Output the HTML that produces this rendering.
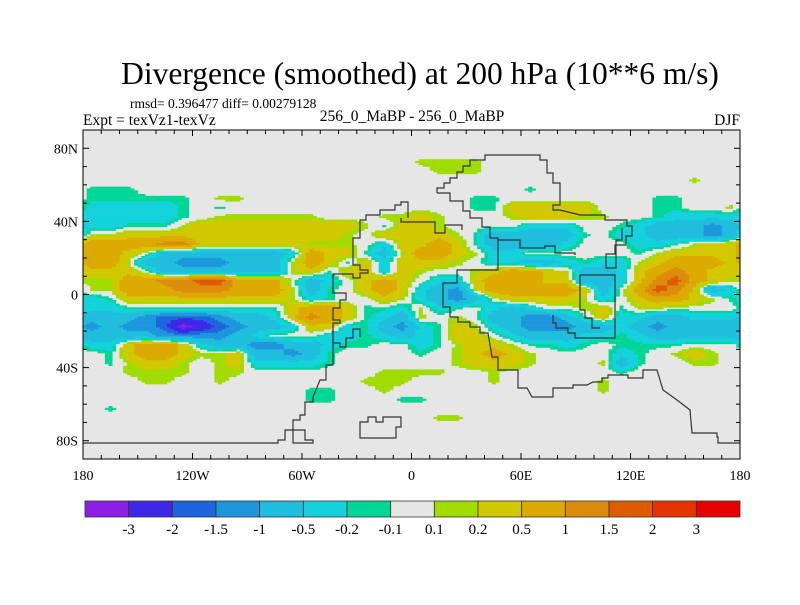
<!DOCTYPE html>
<html><head><meta charset="utf-8"><style>
html,body{margin:0;padding:0;background:#fff;}
svg text{font-family:"Liberation Serif",serif;fill:#000;}
</style></head><body>
<svg id="chart" width="800" height="600" viewBox="0 0 800 600" xmlns="http://www.w3.org/2000/svg">
<text x="420" y="84" font-size="31.5" text-anchor="middle">Divergence (smoothed) at 200 hPa (10**6 m/s)</text>
<text x="130" y="108" font-size="13.5">rmsd= 0.396477 diff= 0.00279128</text>
<text x="83" y="125" font-size="15.5">Expt = texVz1-texVz</text>
<text x="412" y="121" font-size="15.5" text-anchor="middle">256_0_MaBP - 256_0_MaBP</text>
<text x="740" y="125" font-size="15.5" text-anchor="end">DJF</text>
<g id="field"></g>
<g id="coast" fill="none" stroke="#333" stroke-width="1.2">
<path d="M83,443 H278 V440 H285 V430 H293 V420 H300 V415 H305 V402 H313 V397 L320,380 H326 V365 H333 V347 H333 V323 H340 V320 H333 V308 H340 V300 H346 V293 H333 V274 H353 V278 H360 V273 H368 V270 H360 V265 H353 V238 H360 V220 H366 V215 H380 V210 H395 V205 H401 V202 H408 V218"/>
<path d="M401,218 V222 H435 V233 H445 V225 H462 V230"/>
<path d="M293,443 H313 V440 H305 V430 H293 Z"/>
<path d="M333,329 V343 H340 V347 H346 V338 H353 V329 H360 V337"/>
<path d="M360,422 V438 H396 V427 H401 V417 H383 V422 H376 V417 H368 V422 Z"/>
<path d="M437,193 V188 H444 V183 H450 V178 H457 V172 H463 V166 H470 V160 H485 V155 H540 V160 H547 V173 H553 V183 H560 V205 H553 V210 H560 L580,215 H605 V220 H627 V226 H632 V236 H626 V245 H615 V254 H606 V268 H616 V240 H622 V228"/>
<path d="M437,193 H450 V201 H463 V211 H470 V218 H482 V227 H490 V238 H498 V250 H498 V270 H457 V283 H443 V307 H450 V317 H458 V322 H470 V327 H480 V333 H488 L492,357 H498 V370 H518 V388 H527 L532,397 H553 V388 H573 V385 H587 L593,382 H602 V378 H608 V375 H628 V378 H643 V370 H657 L663,390 L670,395 L677,400 L690,410 L692,433 H717 V437 H718 V443 H740"/>
<path d="M580,275 H615 V338 H575 V333 H568 V328 H556 V323 H553 V315"/>
<path d="M580,275 V310 H585 V318 H592 V328 H600"/>
<path d="M498,240 H520 V248 H545 V246 H555 V253 H575 V255"/>
</g>
<rect x="83" y="130" width="657" height="329" fill="none" stroke="#000" stroke-width="1"/>
<g id="axes"></g>
<g id="cbar"></g>
</svg>
<script>
// grid: 36 lon columns (10 deg, from 180W) x 36 lat rows (5 deg, from 90N)
const levelCodes = "ABCDEFG01234567";
const levelValues = [-3.5,-2.5,-1.75,-1.25,-0.75,-0.35,-0.15,0,0.15,0.35,0.75,1.25,1.75,2.5,3.5];
const fieldRows = [
"000000000000000000000000000000000000",
"000000000000000000000000000000000000",
"000000000000000000000000000000000000",
"000000000000000000111100000000000000",
"000000000000000000011100000000000000",
"000000000000000000000000000000000100",
"GGG000000000000000000000G00000000000",
"GGGGGG011000000000000GG00000000GG000",
"FFFFFG0G0000000000000GG22222000GG001",
"FFFFFG0111111000112100012221100GFFFF",
"FFGGG12222222221G2210000FFF00GFEEEDE",
"112222222222221022221GEEEEEG0FFEEEDE",
"3333442222221110F2232GEEEEF000FFG122",
"3320EEEEEEEF322GE13321FF000000G12222",
"331EEDDDEEE132G2F22210FFEEFGFF123332",
"2220EEEEEEE12G22F2100123321EEF234322",
"113344553330EF02320FF233322EEF245321",
"113334443331EG0232FED1333332E03542EF",
"FG2222222221FG0021FEDE022221F023321G",
"FFGGGGGGGGG2332GGF1FG0FEF0012G110000",
"EEEDCCCDEEF2432GFE1010EEDDEG2FFEEFFF",
"DEDDCABCDEEF22FGEDFG21FEDDDEEFEDEEEE",
"EEEEDDDDEF000FFGFEFG220FEEEFFGFEEEEE",
"FF2332FEEDDEEFGG00FG1221GGFG0GGGG000",
"0G2332112EEDEG0000G0123210000FG01210",
"0G1221012FFFFG000000122210001EG00110",
"00111101100000001111001000000G000000",
"000110010000000111000010000010000000",
"000000000000GG0010000000000010000000",
"000000000000GG000GG00000000000000000",
"0G0000000000000000000000000000000000",
"000000000000000000011000000000000000",
"000000000000000000000000000000000000",
"000000000000000000000000000000000000",
"000000000000000000000000000000000000",
"000000000000000000000000000000000000"];
const levelBounds = [-3,-2,-1.5,-1,-0.5,-0.2,-0.1,0.1,0.2,0.5,1,1.5,2,3];
const levelColors = ["#8c1ee6","#3c28e6","#1e64dc","#1e96dc","#1ebedc","#14d2dc","#00d696","#e6e6e6","#a0dc00","#d2c800","#dcaa00","#dc8c0a","#e05a00","#e63200","#e60000"];
const cbarLabels = ["-3","-2","-1.5","-1","-0.5","-0.2","-0.1","0.1","0.2","0.5","1","1.5","2","3"];
const lonTicks = [-180,-120,-60,0,60,120,180];
const lonTickLabels = ["180","120W","60W","0","60E","120E","180"];
const latTicks = [80,40,0,-40,-80];
const latTickLabels = ["80N","40N","0","40S","80S"];

const NS="http://www.w3.org/2000/svg";
const X0=83,X1=740,Y0=130,Y1=459;
const xOf = lon => X0 + (lon+180)/360*(X1-X0);
const yOf = lat => Y0 + (90-lat)/180*(Y1-Y0);
function colorFor(v){let i=0;while(i<levelBounds.length && v>levelBounds[i]) i++;return levelColors[i];}
function mk(tag,attrs,parent){const e=document.createElementNS(NS,tag);for(const k in attrs)e.setAttribute(k,attrs[k]);parent.appendChild(e);return e;}

const values = fieldRows.map(r=>r.split("").map(c=>levelValues[levelCodes.indexOf(c)]));
const NR=values.length, NC=values[0].length;
function sample(lon,lat){
  let fc=(lon+175)/10, fr=(87.5-lat)/5;
  fr=Math.max(0,Math.min(NR-1,fr));
  const r0=Math.floor(fr), r1=Math.min(NR-1,r0+1), tr=fr-r0;
  const c0f=Math.floor(fc), tc=fc-c0f;
  const c0=((c0f%NC)+NC)%NC, c1=(c0+1)%NC;
  const a=values[r0][c0]*(1-tc)+values[r0][c1]*tc;
  const b=values[r1][c0]*(1-tc)+values[r1][c1]*tc;
  return a*(1-tr)+b*tr;
}
const field=document.getElementById("field");
mk("rect",{x:X0,y:Y0,width:X1-X0,height:Y1-Y0,fill:"#e6e6e6"},field);
const dLon=2, dLat=1;
for(let lat=90;lat>-90;lat-=dLat){
  let runStart=null, runCol=null;
  const flush=(endLon)=>{
    if(runCol && runCol!=="#e6e6e6"){
      const r=mk("rect",{x:xOf(runStart),y:yOf(lat),width:xOf(endLon)-xOf(runStart)+0.3,height:yOf(lat-dLat)-yOf(lat)+0.3,fill:runCol},field);
      
      
    }
  };
  for(let lon=-180;lon<180;lon+=dLon){
    const col=colorFor(sample(lon+dLon/2,lat-dLat/2));
    if(col!==runCol){flush(lon);runStart=lon;runCol=col;}
  }
  flush(180);
}

const axes=document.getElementById("axes");
for(let lon=-180;lon<=180;lon+=10){
  const L=lon%60===0?6:4;
  mk("line",{x1:xOf(lon),x2:xOf(lon),y1:Y1,y2:Y1-L,stroke:"#000"},axes);
  mk("line",{x1:xOf(lon),x2:xOf(lon),y1:Y0,y2:Y0+L,stroke:"#000"},axes);
}
for(let lat=-90;lat<=90;lat+=10){
  const L=lat%40===0?6:4;
  mk("line",{x1:X0,x2:X0+L,y1:yOf(lat),y2:yOf(lat),stroke:"#000"},axes);
  mk("line",{x1:X1,x2:X1-L,y1:yOf(lat),y2:yOf(lat),stroke:"#000"},axes);
}
lonTicks.forEach((lon,i)=>{
  const t=mk("text",{x:xOf(lon),y:480,"font-size":14,"text-anchor":"middle"},axes);
  t.textContent=lonTickLabels[i];
  
  
});
latTicks.forEach((lat,i)=>{
  const t=mk("text",{x:78,y:yOf(lat)+5,"font-size":14,"text-anchor":"end"},axes);
  t.textContent=latTickLabels[i];
  
  
});

const cbar=document.getElementById("cbar");
const CB0=85,CB1=740,CBy=501,CBh=16,bw=(CB1-CB0)/levelColors.length;
levelColors.forEach((c,i)=>{
  const r=mk("rect",{x:CB0+i*bw,y:CBy,width:bw,height:CBh,fill:c,stroke:"#333","stroke-width":0.8},cbar);
  
  
});
cbarLabels.forEach((s,i)=>{
  const t=mk("text",{x:CB0+(i+1)*bw,y:534,"font-size":15,"text-anchor":"middle"},cbar);
  t.textContent=s;
  
  
});
</script>
</body></html>
